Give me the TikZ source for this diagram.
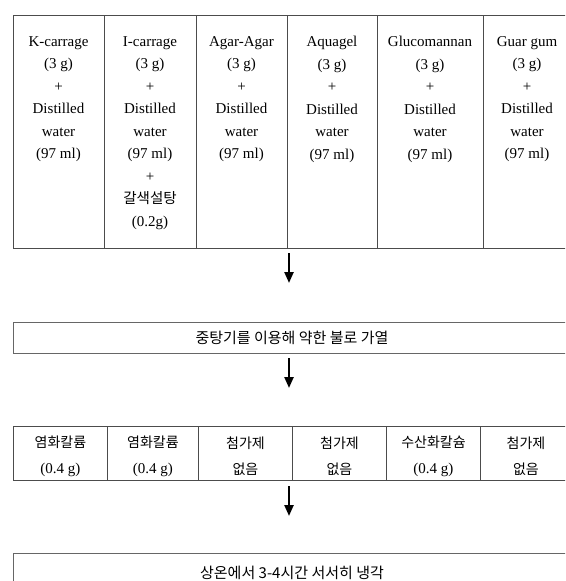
\documentclass[tikz,border=0pt]{standalone}
\usepackage{fontspec}
\setmainfont{Liberation Serif}
\newfontfamily\kr{Noto Sans CJK KR}
\usetikzlibrary{arrows.meta}
\begin{document}
\begin{tikzpicture}[x=1pt,y=-1pt,
  cell/.style={draw=black!70, line width=0.9pt, rectangle, inner sep=0pt, anchor=north west},
  ctext/.style={anchor=north, align=center, inner sep=0pt, font=\fontsize{15}{22.5}\selectfont},
  rtext/.style={anchor=center, align=center, inner sep=0pt, yshift=-2.5pt, font=\fontsize{15}{26}\selectfont},
  boxtext/.style={draw=black!60, line width=0.9pt, rectangle, inner sep=0pt, font=\kr\fontsize{15}{18}\selectfont},
  arr/.style={line width=2.3pt, -{Triangle[width=9pt,length=11pt]}}
]
\useasboundingbox (0,0) rectangle (565,581);
\clip (0,0) rectangle (565,581);

% top table
\node[cell, minimum width=91pt, minimum height=233pt] (t1) at (13,15) {};
\node[cell, minimum width=92pt, minimum height=233pt] (t2) at (104,15) {};
\node[cell, minimum width=91pt, minimum height=233pt] (t3) at (196,15) {};
\node[cell, minimum width=90pt, minimum height=233pt] (t4) at (287,15) {};
\node[cell, minimum width=106pt, minimum height=233pt] (t5) at (377,15) {};
\node[cell, minimum width=88pt, minimum height=233pt] (t6) at (483,15) {};

\node[ctext] (x1) at (58.5,36) {K-carrage\\(3 g)\\+\\Distilled\\water\\(97 ml)};
\node[ctext] (x2) at (150,36) {I-carrage\\(3 g)\\+\\Distilled\\water\\(97 ml)\\+\\{\kr\fontsize{14.5}{22.5}\selectfont 갈색설탕}\\(0.2g)};
\node[ctext] (x3) at (241.5,36) {Agar-Agar\\(3 g)\\+\\Distilled\\water\\(97 ml)};
\node[ctext] (x4) at (332,36) {Aquagel\\(3 g)\\+\\Distilled\\water\\(97 ml)};
\node[ctext] (x5) at (430,36) {Glucomannan\\(3 g)\\+\\Distilled\\water\\(97 ml)};
\node[ctext] (x6) at (527,36) {Guar gum\\(3 g)\\+\\Distilled\\water\\(97 ml)};

% heating box
\node[boxtext, minimum width=558pt, minimum height=31pt] (b2) at (292,337.5) {중탕기를 이용해 약한 불로 가열};

% second row table
\node[cell, minimum width=94pt, minimum height=54pt] (r1) at (13,426) {};
\node[cell, minimum width=91pt, minimum height=54pt] (r2) at (107,426) {};
\node[cell, minimum width=94pt, minimum height=54pt] (r3) at (198,426) {};
\node[cell, minimum width=94pt, minimum height=54pt] (r4) at (292,426) {};
\node[cell, minimum width=94pt, minimum height=54pt] (r5) at (386,426) {};
\node[cell, minimum width=91pt, minimum height=54pt] (r6) at (480,426) {};

\node[rtext] (y1) at (r1.center) {{\kr\fontsize{14}{26}\selectfont 염화칼륨}\\(0.4 g)};
\node[rtext] (y2) at (r2.center) {{\kr\fontsize{14}{26}\selectfont 염화칼륨}\\(0.4 g)};
\node[rtext, font=\kr\fontsize{14}{26}\selectfont] (y3) at (r3.center) {첨가제\\없음};
\node[rtext, font=\kr\fontsize{14}{26}\selectfont] (y4) at (r4.center) {첨가제\\없음};
\node[rtext] (y5) at (r5.center) {{\kr\fontsize{14}{26}\selectfont 수산화칼슘}\\(0.4 g)};
\node[rtext, font=\kr\fontsize{14}{26}\selectfont] (y6) at (r6.center) {첨가제\\없음};

% cooling box
\node[boxtext, minimum width=558pt, minimum height=40pt] (b4) at (292,573) {상온에서 3-4시간 서서히 냉각};

% arrows
\coordinate (a1s) at (289,253); \coordinate (a1e) at (289,283);
\coordinate (a2s) at (289,358); \coordinate (a2e) at (289,388);
\coordinate (a3s) at (289,486); \coordinate (a3e) at (289,516);
\draw[arr] (a1s) -- (a1e);
\draw[arr] (a2s) -- (a2e);
\draw[arr] (a3s) -- (a3e);
\end{tikzpicture}
\end{document}
